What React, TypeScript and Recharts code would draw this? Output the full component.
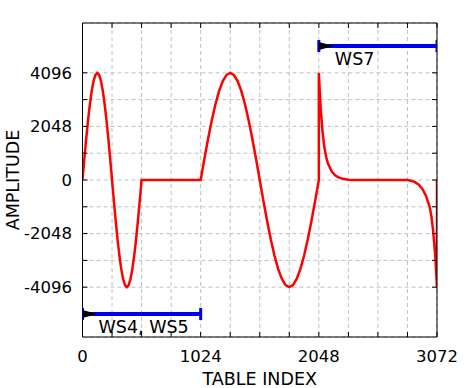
import React from 'react';
import { LineChart, Line, XAxis, YAxis, CartesianGrid, Label } from 'recharts';

// ---- data ----
const tableIndex: number[] = [
  0, 16, 32, 48, 64, 80, 96, 112, 128, 144, 160, 176, 192, 208, 224, 240, 256,
  272, 288, 304, 320, 336, 352, 368, 384, 400, 416, 432, 448, 464, 480, 496, 512,
  1024,
  1056, 1088, 1120, 1152, 1184, 1216, 1248, 1280, 1312, 1344, 1376, 1408, 1440, 1472, 1504, 1536,
  1568, 1600, 1632, 1664, 1696, 1728, 1760, 1792, 1824, 1856, 1888, 1920, 1952, 1984, 2016, 2048,
  2048, 2056, 2064, 2080, 2096, 2112, 2128, 2160, 2192, 2224, 2256, 2304, 2336,
  2816, 2848, 2880, 2912, 2944, 2976, 3008, 3024, 3040, 3056, 3064, 3072, 3072,
];
const amplitude: number[] = [
  0, 803, 1568, 2276, 2896, 3406, 3784, 4017, 4096, 4017, 3784, 3406, 2896, 2276, 1568, 803, 0,
  -803, -1568, -2276, -2896, -3406, -3784, -4017, -4096, -4017, -3784, -3406, -2896, -2276, -1568, -803, 0,
  0,
  803, 1568, 2276, 2896, 3406, 3784, 4017, 4096, 4017, 3784, 3406, 2896, 2276, 1568, 803, 0,
  -803, -1568, -2276, -2896, -3406, -3784, -4017, -4096, -4017, -3784, -3406, -2896, -2276, -1568, -803, 0,
  4096, 3400, 2750, 1850, 1250, 870, 620, 320, 170, 90, 45, 12, 0,
  0, -25, -80, -170, -330, -600, -1020, -1400, -2000, -2850, -3450, -4096, 0,
];

const xTicks: number[] = [0, 256, 512, 768, 1024, 1280, 1536, 1792, 2048, 2304, 2560, 2816, 3072];
const xLabelTicks: number[] = [0, 1024, 2048, 3072];
const yTicks: number[] = [-4096, -3072, -2048, -1024, 0, 1024, 2048, 3072, 4096];
const yLabelTicks: number[] = [-4096, -2048, 0, 2048, 4096];

const wsNames: string[] = ['WS7', 'WS4, WS5'];
const wsStart: number[] = [2048, 0];
const wsEnd: number[] = [3072, 1024];
const wsLevel: number[] = [5120, -5120];

const data = tableIndex.map((x, i) => ({ x, y: amplitude[i] }));
const wsData = wsNames.map((name, i) => [
  { x: wsStart[i], y: wsLevel[i], name },
  { x: wsEnd[i], y: wsLevel[i], name },
]);

const FONT = '"DejaVu Sans", sans-serif';

const makeDot = (name: string) => (props: any) => {
  const { cx, cy, index } = props;
  if (cx == null || cy == null) return <g key={`d${index}`} />;
  return (
    <g key={`${name}-${index}`}>
      <rect x={cx - 1.5} y={cy - 6} width={3} height={12} fill="#0000f0" />
      {index === 0 && (
        <>
          <polygon points={`${cx},${cy - 4} ${cx + 15},${cy} ${cx},${cy + 4}`} fill="#000" />
          <text x={cx + 16} y={cy + 19} fontSize={17.5} fontFamily={FONT} fill="#000">
            {name}
          </text>
        </>
      )}
    </g>
  );
};

const YLabel = (props: any) => {
  const vb = props.viewBox || {};
  const cy = vb.y + vb.height / 2;
  const x = 18.5;
  return (
    <text
      x={x}
      y={cy}
      transform={`rotate(-90, ${x}, ${cy})`}
      textAnchor="middle"
      fontSize={17.5}
      fontFamily={FONT}
      fill="#000"
    >
      AMPLITUDE
    </text>
  );
};

export default function App() {
  return (
    <div style={{ position: 'absolute', left: 0, top: 0 }}>
      <LineChart
        width={472}
        height={388}
        data={data}
        margin={{ top: 22, right: 34, bottom: 0, left: 0 }}
        style={{ fontFamily: FONT }}
      >
        <CartesianGrid stroke="#c0c0c0" strokeDasharray="4 3" strokeWidth={1} />
        <XAxis
          dataKey="x"
          type="number"
          domain={[0, 3072]}
          ticks={xTicks}
          interval={0}
          height={51}
          stroke="#000"
          tickSize={-5}
          tickMargin={18}
          tick={{ fill: '#000', fontSize: 16.5 }}
          tickFormatter={(v: number) => (xLabelTicks.includes(v) ? String(v) : '')}
          allowDataOverflow
        >
          <Label value="TABLE INDEX" position="insideBottom" offset={3.5} fill="#000" fontSize={17.5} />
        </XAxis>
        <XAxis
          xAxisId="top"
          orientation="top"
          dataKey="x"
          type="number"
          domain={[0, 3072]}
          ticks={xTicks}
          interval={0}
          height={1}
          stroke="#000"
          tickSize={-5}
          tickFormatter={() => ''}
          allowDataOverflow
        />
        <YAxis
          type="number"
          domain={[-6000, 6000]}
          ticks={yTicks}
          interval={0}
          width={82.5}
          stroke="#000"
          tickSize={-5}
          tickMargin={15.5}
          tick={{ fill: '#000', fontSize: 16.5 }}
          tickFormatter={(v: number) => (yLabelTicks.includes(v) ? String(v) : '')}
          allowDataOverflow
        >
          <Label content={<YLabel />} />
        </YAxis>
        <YAxis
          yAxisId="right"
          orientation="right"
          type="number"
          domain={[-6000, 6000]}
          ticks={yTicks}
          interval={0}
          width={1}
          stroke="#000"
          tickSize={-5}
          tickFormatter={() => ''}
          allowDataOverflow
        />
        <Line
          dataKey="y"
          stroke="#ff0000"
          strokeWidth={2.5}
          dot={false}
          type="linear"
          isAnimationActive={false}
        />
        {wsData.map((d, i) => (
          <Line
            key={wsNames[i]}
            data={d}
            dataKey="y"
            stroke="#0000f0"
            strokeWidth={4}
            type="linear"
            dot={makeDot(wsNames[i])}
            isAnimationActive={false}
          />
        ))}
      </LineChart>
    </div>
  );
}
